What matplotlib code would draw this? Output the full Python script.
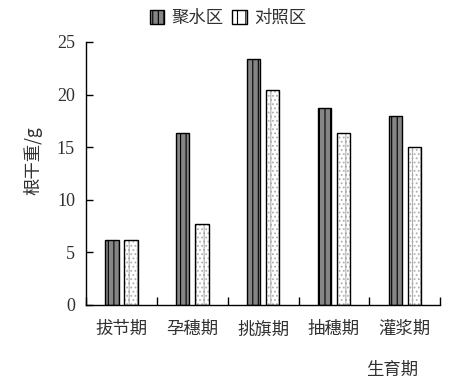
import numpy as np
import matplotlib
matplotlib.use('Agg')
import matplotlib.pyplot as plt
from matplotlib.patches import Patch

plt.rcParams['font.family'] = ['Liberation Serif', 'Noto Sans CJK SC']
plt.rcParams['hatch.linewidth'] = 0.8

# data
stages = ['拔节期', '孕穗期', '挑旗期', '抽穗期', '灌浆期']
jushui = [6.2, 16.3, 23.4, 18.7, 18.0]
duizhao = [6.2, 7.7, 20.4, 16.3, 15.0]
series_names = ['聚水区', '对照区']
y_ticks = [0, 5, 10, 15, 20, 25]

cjk = ['Noto Sans CJK SC']
txt_col = '#303030'

fig = plt.figure(figsize=(4.6, 3.92), dpi=100)
ax = fig.add_axes([0.187, 0.222, 0.77, 0.671])

x = np.arange(len(stages))
w = 0.19
off = 0.135

plt.rcParams['hatch.color'] = '#3a3a3a'
ax.bar(x - off, jushui, w, color='#858585', edgecolor='black',
       linewidth=1.0, hatch='|||', zorder=2)
plt.rcParams['hatch.color'] = '#b0b0b0'
ax.bar(x + off, duizhao, w, color='white', edgecolor='#b0b0b0',
       linewidth=0, hatch='||....', zorder=2)
# outline on top of the dotted bars
ax.bar(x + off, duizhao, w, color='none', edgecolor='black',
       linewidth=1.0, zorder=3)

ax.set_xlim(-0.5, len(stages) - 0.5)
ax.set_ylim(0, 25)
ax.set_yticks(y_ticks)
ax.set_yticklabels([str(t) for t in y_ticks], fontsize=13, color=txt_col)
ax.set_xticks(np.arange(len(stages) + 1) - 0.5)
ax.set_xticklabels([])
ax.set_xticks(x, minor=True)
ax.set_xticklabels(stages, minor=True, fontsize=12.5, family=cjk,
                   color=txt_col)
ax.tick_params(axis='x', which='minor', length=0, pad=11)
ax.tick_params(axis='x', which='major', direction='in', length=6, width=1)
ax.tick_params(axis='y', direction='in', length=5, width=1, pad=8)

for s in ['top', 'right']:
    ax.spines[s].set_visible(False)
for s in ['left', 'bottom']:
    ax.spines[s].set_linewidth(1.0)

fig.text(0.072, 0.59, '根干重/g', rotation=90, ha='center', va='center',
         fontsize=12.5, family=cjk, color=txt_col)
fig.text(0.852, 0.056, '生育期', ha='center', va='center',
         fontsize=12.5, family=cjk, color=txt_col)

plt.rcParams['hatch.color'] = '#3a3a3a'
handles = [Patch(facecolor='#858585', edgecolor='black', hatch='|||'),
           Patch(facecolor='white', edgecolor='black', hatch='||')]
fig.legend(handles, series_names, loc='center', bbox_to_anchor=(0.495, 0.955),
           ncol=2, frameon=False, handlelength=0.85, handleheight=0.85,
           handletextpad=0.4, columnspacing=0.5, labelcolor=txt_col,
           prop={'family': cjk, 'size': 12.5})

fig.savefig('out.png', dpi=100)
